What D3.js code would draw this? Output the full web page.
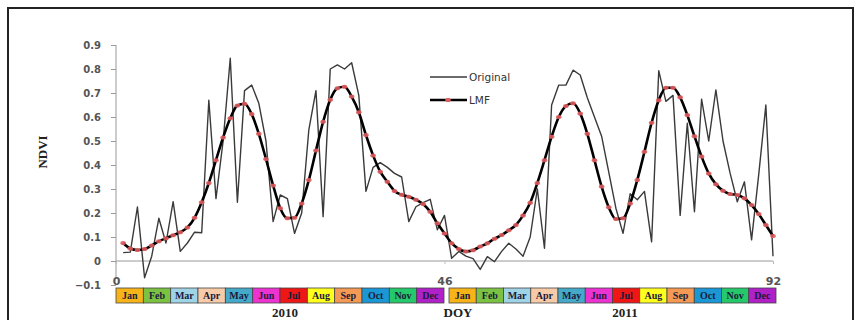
<!DOCTYPE html>
<html>
<head>
<meta charset="utf-8">
<script src="https://cdn.jsdelivr.net/npm/d3@7"></script>
<style>
  body { margin: 0; background: #fff; }
  svg { display: block; }
</style>
</head>
<body>
<svg id="chart" width="865" height="320"></svg>
<script>
// NDVI time series, 8-day composites, index 1..92 (2010 + 2011)
var original = [
  0.035, 0.037, 0.225, -0.07, 0.02, 0.178, 0.075, 0.247, 0.04, 0.075,
  0.12, 0.118, 0.67, 0.26, 0.5, 0.845, 0.245, 0.71, 0.733, 0.657,
  0.5, 0.164, 0.275, 0.26, 0.115, 0.2, 0.546, 0.71, 0.185, 0.8,
  0.817, 0.8, 0.826, 0.69, 0.29, 0.39, 0.41, 0.39, 0.365, 0.35,
  0.164, 0.226, 0.243, 0.257, 0.13, 0.19, 0.011, 0.04, 0.02, 0.01,
  -0.035, 0.018, -0.003, 0.04, 0.074, 0.05, 0.02, 0.1, 0.3, 0.053,
  0.65, 0.733, 0.733, 0.795, 0.775, 0.68, 0.6, 0.52, 0.37, 0.22,
  0.115, 0.28, 0.255, 0.29, 0.08, 0.793, 0.665, 0.69, 0.19, 0.574,
  0.205, 0.674, 0.5, 0.713, 0.5, 0.365, 0.247, 0.33, 0.088, 0.36,
  0.65, 0.02
];
var lmf = [
  0.075, 0.052, 0.046, 0.05, 0.065, 0.082, 0.095, 0.107, 0.12, 0.14,
  0.18, 0.245, 0.325, 0.42, 0.515, 0.595, 0.648, 0.655, 0.612, 0.53,
  0.425, 0.315, 0.22, 0.178, 0.18, 0.24, 0.337, 0.46, 0.58, 0.672,
  0.72, 0.726, 0.685, 0.62, 0.525, 0.44, 0.372, 0.33, 0.292, 0.276,
  0.268, 0.255, 0.238, 0.205, 0.157, 0.115, 0.074, 0.05, 0.04, 0.045,
  0.06, 0.074, 0.093, 0.108, 0.128, 0.15, 0.19, 0.243, 0.325, 0.42,
  0.518, 0.6, 0.646, 0.657, 0.615, 0.53, 0.42, 0.31, 0.224, 0.175,
  0.178, 0.24, 0.338, 0.455, 0.576, 0.67, 0.722, 0.722, 0.682, 0.608,
  0.52, 0.435, 0.365, 0.32, 0.293, 0.279, 0.275, 0.261, 0.233, 0.196,
  0.15, 0.104
];
var months = ["Jan", "Feb", "Mar", "Apr", "May", "Jun", "Jul", "Aug", "Sep", "Oct", "Nov", "Dec"];
var monthColors = ["#f7b418", "#7cc242", "#9fd3e6", "#f8cba8", "#45a9c9", "#ec33d2",
                   "#ef1616", "#ffff1e", "#f49a55", "#1b97d5", "#25c86a", "#b021c8"];
var years = ["2010", "2011"];
var yTicks = [-0.1, 0, 0.1, 0.2, 0.3, 0.4, 0.5, 0.6, 0.7, 0.8, 0.9];
var xTicks = [0, 46, 92];

var svg = d3.select("#chart");

// outer frame
svg.append("rect")
    .attr("x", 8).attr("y", 8)
    .attr("width", 845).attr("height", 330)
    .style("fill", "none")
    .style("stroke", "#222")
    .style("stroke-width", 2);

var x = d3.scaleLinear().domain([0, 92]).range([116, 773]);
var y = d3.scaleLinear().domain([-0.1, 0.9]).range([285, 45]);

// y axis
var yAxis = svg.append("g")
    .attr("transform", "translate(116,0)")
    .call(d3.axisLeft(y).tickValues(yTicks).tickSize(5).tickPadding(10)
        .tickFormat(function(d) { return d3.format(".1f")(d).replace(/^-?0\.0$/, "0"); }));
yAxis.select(".domain").attr("d", "M0," + y(0.9) + "V" + (y(-0.1) - 8)).style("stroke", "#999");
yAxis.selectAll(".tick line").style("stroke", "#999");
yAxis.selectAll("text")
    .style("font-family", "'DejaVu Sans', sans-serif")
    .style("font-size", "10px")
    .style("font-weight", "bold")
    .style("fill", "#555");

// x axis at y = 0
var xAxis = svg.append("g")
    .attr("transform", "translate(0," + y(0) + ")")
    .call(d3.axisBottom(x).tickValues(xTicks).tickSize(3).tickPadding(13).tickFormat(d3.format("d")));
xAxis.select(".domain").attr("d", "M" + x(0) + ",0H" + x(92)).style("stroke", "#999");
xAxis.selectAll(".tick line").style("stroke", "#bbb");
xAxis.selectAll("text")
    .style("font-family", "'DejaVu Sans', sans-serif")
    .style("font-size", "11px")
    .style("font-weight", "bold")
    .style("fill", "#555");

// series
var pts = function(arr) { return arr.map(function(v, i) { return {i: i + 1, v: v}; }); };
var line = d3.line()
    .x(function(d) { return x(d.i); })
    .y(function(d) { return y(d.v); });

svg.append("path")
    .attr("d", line(pts(original)))
    .style("fill", "none")
    .style("stroke", "#3a3a3a")
    .style("stroke-width", 1.4)
    .style("stroke-linejoin", "round");

svg.append("path")
    .attr("d", line.curve(d3.curveMonotoneX)(pts(lmf)))
    .style("fill", "none")
    .style("stroke", "#000")
    .style("stroke-width", 2.6);

svg.append("g").selectAll("ellipse")
    .data(pts(lmf))
    .join("ellipse")
    .attr("cx", function(d) { return x(d.i); })
    .attr("cy", function(d) { return y(d.v); })
    .attr("rx", 2.8).attr("ry", 2)
    .style("fill", "#df5a5c")
    .style("opacity", 0.9);

// legend
var leg = svg.append("g").attr("transform", "translate(430,77)");
leg.append("line").attr("x1", 0).attr("x2", 37).attr("y1", 0).attr("y2", 0)
    .style("stroke", "#3a3a3a").style("stroke-width", 1.4);
leg.append("text").attr("x", 39).attr("y", 4).text("Original");
leg.append("line").attr("x1", 0).attr("x2", 37).attr("y1", 23).attr("y2", 23)
    .style("stroke", "#000").style("stroke-width", 2.6);
leg.append("ellipse").attr("cx", 18).attr("cy", 23).attr("rx", 2.8).attr("ry", 2).style("fill", "#df5a5c");
leg.append("text").attr("x", 39).attr("y", 27).text("LMF");
leg.selectAll("text")
    .style("font-family", "'DejaVu Sans', sans-serif")
    .style("font-size", "10.5px")
    .style("fill", "#333");

// month strips for each year
var yearRanges = [[116, 444], [449, 776]];
years.forEach(function(yr, k) {
    var band = d3.scaleBand().domain(months).range(yearRanges[k]);
    var g = svg.append("g");
    g.selectAll("rect")
        .data(months)
        .join("rect")
        .attr("x", function(d) { return band(d); })
        .attr("y", 288)
        .attr("width", band.bandwidth())
        .attr("height", 15)
        .style("fill", function(d, i) { return monthColors[i]; })
        .style("stroke", "#444")
        .style("stroke-width", 0.8);
    g.selectAll("text")
        .data(months)
        .join("text")
        .attr("x", function(d) { return band(d) + band.bandwidth() / 2; })
        .attr("y", 299)
        .attr("text-anchor", "middle")
        .style("font-family", "'Liberation Serif', 'Times New Roman', serif")
        .style("font-size", "10px")
        .style("font-weight", "bold")
        .style("fill", "#1a1a3a")
        .text(function(d) { return d; });
});

// bottom labels
var bottom = [{t: years[0], x: 285}, {t: "DOY", x: 458}, {t: years[1], x: 625}];
svg.selectAll(".blab")
    .data(bottom)
    .join("text")
    .attr("class", "blab")
    .attr("x", function(d) { return d.x; })
    .attr("y", 317)
    .attr("text-anchor", "middle")
    .style("font-family", "'Liberation Serif', 'Times New Roman', serif")
    .style("font-size", "13px")
    .style("font-weight", "bold")
    .style("fill", "#222")
    .text(function(d) { return d.t; });

svg.append("text")
    .attr("transform", "translate(47,152) rotate(-90)")
    .attr("text-anchor", "middle")
    .style("font-family", "'Liberation Serif', 'Times New Roman', serif")
    .style("font-size", "13px")
    .style("font-weight", "bold")
    .style("fill", "#222")
    .text("NDVI");
</script>
</body>
</html>
